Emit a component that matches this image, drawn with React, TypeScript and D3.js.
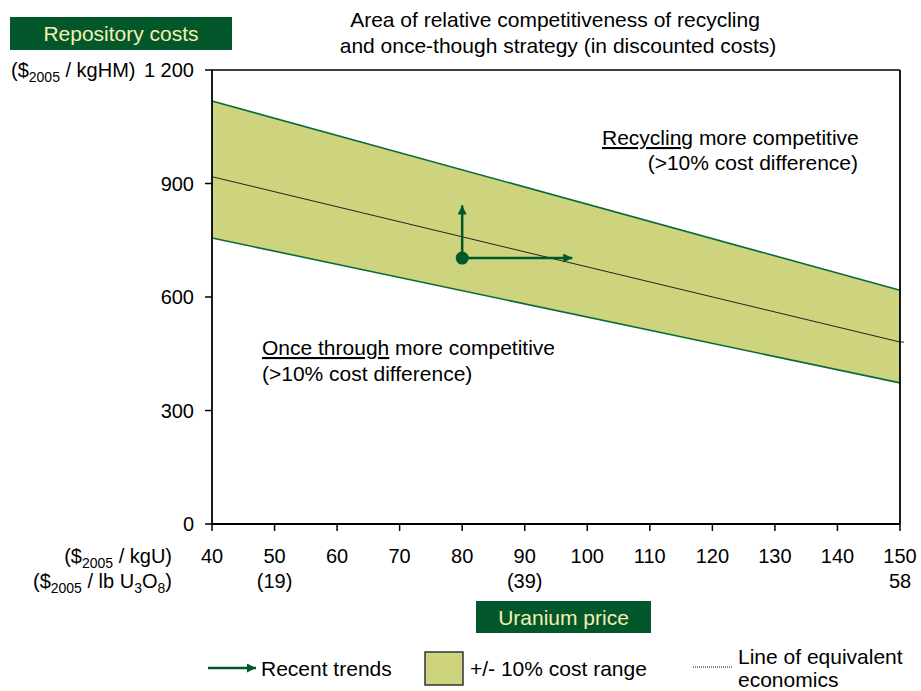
import React from "react";
import * as d3 from "d3";

const xTicks = [40, 50, 60, 70, 80, 90, 100, 110, 120, 130, 140, 150];
const xSubLabels: [number, string][] = [[50, "(19)"], [90, "(39)"], [150, "58"]];
const yTicks = [0, 300, 600, 900, 1200];
const yTickLabels = ["0", "300", "600", "900", "1 200"];
const priceX = [40, 150];
const upperBand = [1118, 618];
const lowerBand = [756, 373];
const equivLine = [918, 481];
const trendOrigin = [80, 703];
const trendUpTo = 842;
const trendRightTo = 97.6;

const FONT = "'Liberation Sans', Arial, Helvetica, sans-serif";
const GREEN = "#03582b";
const BOX_TEXT = "#f3efb2";
const FILL = "#cdd47d";
const EDGE = "#0b6a3a";

export default function App() {
  const x = d3.scaleLinear().domain([40, 150]).range([212, 900]);
  const y = d3.scaleLinear().domain([0, 1200]).range([524, 70]);

  const bandData = priceX.map((p, i) => ({ p, hi: upperBand[i], lo: lowerBand[i] }));
  const area = d3
    .area<{ p: number; hi: number; lo: number }>()
    .x((d) => x(d.p))
    .y0((d) => y(d.lo))
    .y1((d) => y(d.hi));
  const line = d3
    .line<[number, number]>()
    .x((d) => x(d[0]))
    .y((d) => y(d[1]));

  const upperPts: [number, number][] = priceX.map((p, i) => [p, upperBand[i]]);
  const lowerPts: [number, number][] = priceX.map((p, i) => [p, lowerBand[i]]);
  const eqPts: [number, number][] = priceX.map((p, i) => [p, equivLine[i]]);

  const ox = x(trendOrigin[0]);
  const oy = y(trendOrigin[1]);
  const upTip = y(trendUpTo);
  const rightTip = x(trendRightTo);

  const subStyle = { fontSize: 14 };

  return (
    <svg
      width={921}
      height={691}
      style={{ display: "block", position: "absolute", left: 0, top: 0 }}
      fontFamily={FONT}
    >
      <defs>
        <marker id="ah" viewBox="0 0 10 10" refX="10" refY="5" markerWidth="12" markerHeight="9" markerUnits="userSpaceOnUse" orient="auto">
          <path d="M0,0 L10,5 L0,10 z" fill={GREEN} />
        </marker>
      </defs>
      <g>
        {/* title */}
        <text x={555} y={27} textAnchor="middle" fontSize={21} fill="#000">
          Area of relative competitiveness of recycling
        </text>
        <text x={558} y={53} textAnchor="middle" fontSize={21} fill="#000">
          and once-though strategy (in discounted costs)
        </text>

        {/* repository costs box */}
        <rect x={10} y={17} width={222} height={33} fill={GREEN} />
        <text x={121} y={41} textAnchor="middle" fontSize={21} fill={BOX_TEXT}>
          Repository costs
        </text>
        <text x={11} y={77} fontSize={20} fill="#000">
          ($<tspan dy={5} style={subStyle}>2005</tspan>
          <tspan dy={-5}> / kgHM)</tspan>
        </text>

        {/* band */}
        <path d={area(bandData) || ""} fill={FILL} />
        <path d={line(upperPts) || ""} fill="none" stroke={EDGE} strokeWidth={1.6} />
        <path d={line(lowerPts) || ""} fill="none" stroke={EDGE} strokeWidth={1.6} />
        <path d={line(eqPts) || ""} fill="none" stroke="#222" strokeWidth={1} />
        <line x1={x(150)} x2={x(150) + 4} y1={y(equivLine[1])} y2={y(equivLine[1])} stroke="#222" strokeWidth={1} />

        {/* frame */}
        <line x1={212} x2={900} y1={y(1200)} y2={y(1200)} stroke="#000" strokeWidth={1.6} />
        <line x1={900} x2={900} y1={y(1200)} y2={y(0)} stroke="#000" strokeWidth={1.8} />
        <line x1={212} x2={212} y1={y(1200)} y2={y(0)} stroke="#000" strokeWidth={1.8} />
        <line x1={212} x2={900} y1={y(0)} y2={y(0)} stroke="#000" strokeWidth={1.8} />

        {/* y ticks */}
        {yTicks.map((t, i) => (
          <g key={t}>
            <line x1={205} x2={212} y1={y(t)} y2={y(t)} stroke="#000" strokeWidth={1.5} />
            <text x={194} y={y(t) + 7} textAnchor="end" fontSize={20} fill="#000">
              {yTickLabels[i]}
            </text>
          </g>
        ))}

        {/* x ticks */}
        {xTicks.map((t) => (
          <g key={t}>
            <line x1={x(t)} x2={x(t)} y1={y(0)} y2={y(0) + 7} stroke="#000" strokeWidth={1.5} />
            <text x={x(t)} y={563} textAnchor="middle" fontSize={20} fill="#000">
              {t}
            </text>
          </g>
        ))}
        {xSubLabels.map(([t, s]) => (
          <text key={t} x={x(t)} y={588} textAnchor="middle" fontSize={20} fill="#000">
            {s}
          </text>
        ))}
        <text x={172} y={563} textAnchor="end" fontSize={20} fill="#000">
          ($<tspan dy={5} style={subStyle}>2005</tspan>
          <tspan dy={-5}> / kgU)</tspan>
        </text>
        <text x={172} y={588} textAnchor="end" fontSize={20} fill="#000">
          ($<tspan dy={5} style={subStyle}>2005</tspan>
          <tspan dy={-5}> / lb U</tspan>
          <tspan dy={5} style={subStyle}>3</tspan>
          <tspan dy={-5}>O</tspan>
          <tspan dy={5} style={subStyle}>8</tspan>
          <tspan dy={-5}>)</tspan>
        </text>

        {/* uranium price box */}
        <rect x={476} y={601} width={175} height={32} fill={GREEN} />
        <text x={563.5} y={625} textAnchor="middle" fontSize={21} fill={BOX_TEXT}>
          Uranium price
        </text>

        {/* annotations */}
        <text x={602} y={145} fontSize={21} fill="#000">
          <tspan style={{ textDecoration: "underline" }}>Recycling</tspan> more competitive
        </text>
        <text x={858} y={170} textAnchor="end" fontSize={21} fill="#000">
          (&gt;10% cost difference)
        </text>
        <text x={262} y={355} fontSize={21} fill="#000">
          <tspan style={{ textDecoration: "underline" }}>Once through</tspan> more competitive
        </text>
        <text x={262} y={381} fontSize={21} fill="#000">
          (&gt;10% cost difference)
        </text>

        {/* trend arrows */}
        <line x1={ox} y1={oy} x2={ox} y2={upTip} stroke={GREEN} strokeWidth={2.5} markerEnd="url(#ah)" />
        <line x1={ox} y1={oy} x2={rightTip} y2={oy} stroke={GREEN} strokeWidth={2.5} markerEnd="url(#ah)" />
        <circle cx={ox} cy={oy} r={6.5} fill={GREEN} />

        {/* legend */}
        <line x1={208} x2={256} y1={668} y2={668} stroke={GREEN} strokeWidth={2.5} markerEnd="url(#ah)" />
        <text x={261} y={676} fontSize={21} fill="#000">Recent trends</text>
        <rect x={425} y={652} width={38} height={33} fill={FILL} stroke="#333" strokeWidth={1.5} />
        <text x={470} y={676} fontSize={21} fill="#000">+/- 10% cost range</text>
        <line x1={693} x2={733} y1={667} y2={667} stroke="#111" strokeWidth={1} strokeDasharray="1,1" />
        <text x={738} y={664} fontSize={21} fill="#000">Line of equivalent</text>
        <text x={738} y={687} fontSize={21} fill="#000">economics</text>
      </g>
    </svg>
  );
}
